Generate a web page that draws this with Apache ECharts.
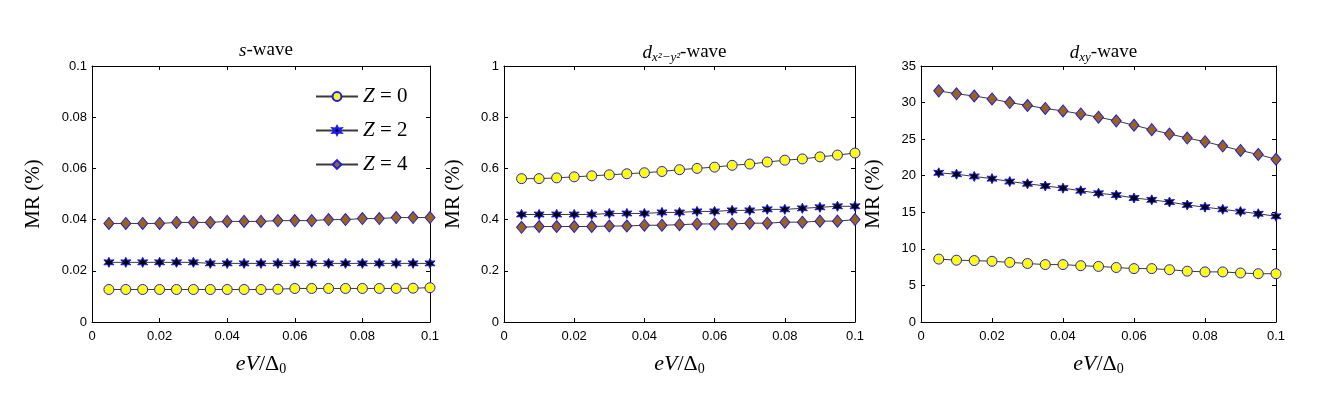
<!DOCTYPE html>
<html>
<head>
<meta charset="utf-8">
<script src="https://cdn.jsdelivr.net/npm/echarts@6/dist/echarts.min.js"></script>
<style>
  html, body { margin: 0; padding: 0; background: #fff; }
  #chart { width: 1318px; height: 402px; }
</style>
</head>
<body>
<div id="chart"></div>
<script>
const bias = [0.005, 0.01, 0.015, 0.02, 0.025, 0.03, 0.035, 0.04, 0.045, 0.05,
  0.055, 0.06, 0.065, 0.07, 0.075, 0.08, 0.085, 0.09, 0.095, 0.1];

// s-wave
const sZ0 = [0.0127, 0.0127, 0.0127, 0.0127, 0.0127, 0.0127, 0.0127, 0.0127, 0.0127, 0.0127,
  0.0128, 0.0131, 0.0131, 0.0131, 0.0131, 0.0131, 0.0131, 0.0131, 0.0132, 0.0134];
const sZ2 = [0.0233, 0.0233, 0.0233, 0.0233, 0.0233, 0.0233, 0.0229, 0.0229, 0.0229, 0.0229,
  0.0229, 0.0229, 0.0229, 0.0229, 0.0229, 0.0229, 0.0229, 0.0229, 0.0229, 0.0229];
const sZ4 = [0.0385, 0.0385, 0.0385, 0.0385, 0.0389, 0.0389, 0.0389, 0.0393, 0.0393, 0.0393,
  0.0396, 0.0396, 0.0396, 0.0400, 0.0400, 0.0404, 0.0404, 0.0408, 0.0408, 0.0408];

// d_{x2-y2}-wave
const dx2Z0 = [0.560, 0.560, 0.563, 0.567, 0.571, 0.575, 0.579, 0.583, 0.588, 0.595,
  0.600, 0.605, 0.612, 0.617, 0.625, 0.632, 0.637, 0.645, 0.652, 0.660];
const dx2Z2 = [0.420, 0.420, 0.420, 0.420, 0.420, 0.424, 0.424, 0.424, 0.428, 0.428,
  0.432, 0.432, 0.436, 0.436, 0.440, 0.440, 0.444, 0.448, 0.452, 0.452];
const dx2Z4 = [0.370, 0.373, 0.373, 0.373, 0.373, 0.375, 0.375, 0.378, 0.378, 0.380,
  0.383, 0.383, 0.383, 0.386, 0.386, 0.390, 0.390, 0.394, 0.394, 0.400];

// d_{xy}-wave
const dxyZ0 = [8.6, 8.45, 8.4, 8.3, 8.15, 8.0, 7.85, 7.85, 7.7, 7.6,
  7.45, 7.3, 7.3, 7.15, 6.95, 6.85, 6.85, 6.7, 6.6, 6.6];
const dxyZ2 = [20.4, 20.2, 19.9, 19.6, 19.2, 18.9, 18.6, 18.3, 17.95, 17.6,
  17.35, 16.95, 16.7, 16.4, 16.0, 15.7, 15.4, 15.1, 14.8, 14.45];
const dxyZ4 = [31.6, 31.2, 30.9, 30.5, 30.0, 29.6, 29.2, 28.85, 28.45, 28.0,
  27.5, 26.9, 26.3, 25.7, 25.15, 24.65, 24.05, 23.45, 22.9, 22.25];

const legendNames = ["Z = 0", "Z = 2", "Z = 4"];
const yMax = [0.1, 1, 35];
const yStep = [0.02, 0.2, 5];

const serif = "Liberation Serif";
const sans = "Liberation Sans";
const starPath = "path://M0 -100 L25 -43 L87 -50 L50 0 L87 50 L25 43 L0 100 L-25 43 L-87 50 L-50 0 L-87 -50 L-25 -43 Z";

const panels = [
  { left: 92, width: 338, title: "{i|s}{n|-wave}", gap: 37, data: [sZ0, sZ2, sZ4] },
  { left: 504, width: 351, title: "{i|d}{sub|x²−y²}{n|-wave}", gap: 29, data: [dx2Z0, dx2Z2, dx2Z4] },
  { left: 921, width: 355, title: "{i|d}{sub|xy}{n|-wave}", gap: 26, data: [dxyZ0, dxyZ2, dxyZ4] }
];

const markers = [
  { symbol: "circle", size: 10, color: "#ffff00" },
  { symbol: starPath, size: 10, color: "#000000" },
  { symbol: "diamond", size: [10, 12], color: "#9c6410" }
];

const richText = {
  i: { fontFamily: serif, fontStyle: "italic", fontWeight: "normal", fontSize: 19, color: "#000" },
  sub: { fontFamily: serif, fontStyle: "italic", fontWeight: "normal", fontSize: 13, color: "#000", padding: [10, 0, 0, 0] },
  n: { fontFamily: serif, fontWeight: "normal", fontSize: 19, color: "#000" }
};

const grid = [], xAxis = [], yAxis = [], series = [], title = [];

panels.forEach((p, k) => {
  grid.push({ left: p.left, width: p.width, top: 66, height: 256 });
  title.push({
    text: p.title,
    left: p.left + p.width / 2,
    top: 36,
    textAlign: "center",
    textStyle: { rich: richText, fontFamily: serif, fontWeight: "normal", fontSize: 19, color: "#000" }
  });
  const tick = { show: true, inside: true, length: 4, lineStyle: { color: "#000" } };
  const line = { show: true, onZero: false, lineStyle: { color: "#000", width: 1 } };
  xAxis.push({
    type: "value", gridIndex: k, min: 0, max: 0.1, interval: 0.02,
    axisLine: line, axisTick: tick, splitLine: { show: false },
    axisLabel: { color: "#000", fontFamily: sans, fontSize: 13, margin: 8 },
    name: "{i|eV}{n|/Δ}{sub|0}", nameLocation: "middle", nameGap: 30,
    nameTextStyle: { rich: {
      i: { fontFamily: serif, fontStyle: "italic", fontSize: 22, color: "#000" },
      n: { fontFamily: serif, fontSize: 22, color: "#000" },
      sub: { fontFamily: serif, fontSize: 14, color: "#000", padding: [10, 0, 0, 0] }
    } }
  });
  xAxis.push({
    type: "value", gridIndex: k, min: 0, max: 0.1, interval: 0.02, position: "top",
    axisLine: line, axisTick: tick, axisLabel: { show: false }, splitLine: { show: false }
  });
  yAxis.push({
    type: "value", gridIndex: k, min: 0, max: yMax[k], interval: yStep[k],
    axisLine: line, axisTick: tick, splitLine: { show: false },
    axisLabel: { color: "#000", fontFamily: sans, fontSize: 13, margin: 5 },
    name: "MR (%)", nameLocation: "middle", nameGap: p.gap + 11,
    nameTextStyle: { fontFamily: serif, fontSize: 21, color: "#000" }
  });
  yAxis.push({
    type: "value", gridIndex: k, min: 0, max: yMax[k], interval: yStep[k], position: "right",
    axisLine: line, axisTick: tick, axisLabel: { show: false }, splitLine: { show: false }
  });
  p.data.forEach((vals, j) => {
    series.push({
      type: "line",
      name: legendNames[j],
      xAxisIndex: 2 * k,
      yAxisIndex: 2 * k,
      data: bias.map((x, i) => [x, vals[i]]),
      symbol: markers[j].symbol,
      symbolSize: markers[j].size,
      showAllSymbol: true,
      lineStyle: { color: "#3a3a3a", width: 1 },
      itemStyle: { color: markers[j].color, borderColor: "#1a1aff", borderWidth: 1 },
      emphasis: { disabled: true },
      animation: false
    });
  });
});

const chart = echarts.init(document.getElementById("chart"));
chart.setOption({
  backgroundColor: "#fff",
  animation: false,
  title: title,
  grid: grid,
  xAxis: xAxis,
  yAxis: yAxis,
  legend: {
    data: legendNames,
    orient: "vertical",
    left: 310,
    top: 81,
    itemWidth: 42,
    itemHeight: 11,
    itemGap: 13,
    formatter: function (name) { return "{i|Z}{n| = " + name.slice(4) + "}"; },
    textStyle: { rich: {
      i: { fontFamily: serif, fontStyle: "italic", fontSize: 21, color: "#000" },
      n: { fontFamily: serif, fontSize: 21, color: "#000" }
    } }
  },
  series: series
});
</script>
</body>
</html>
